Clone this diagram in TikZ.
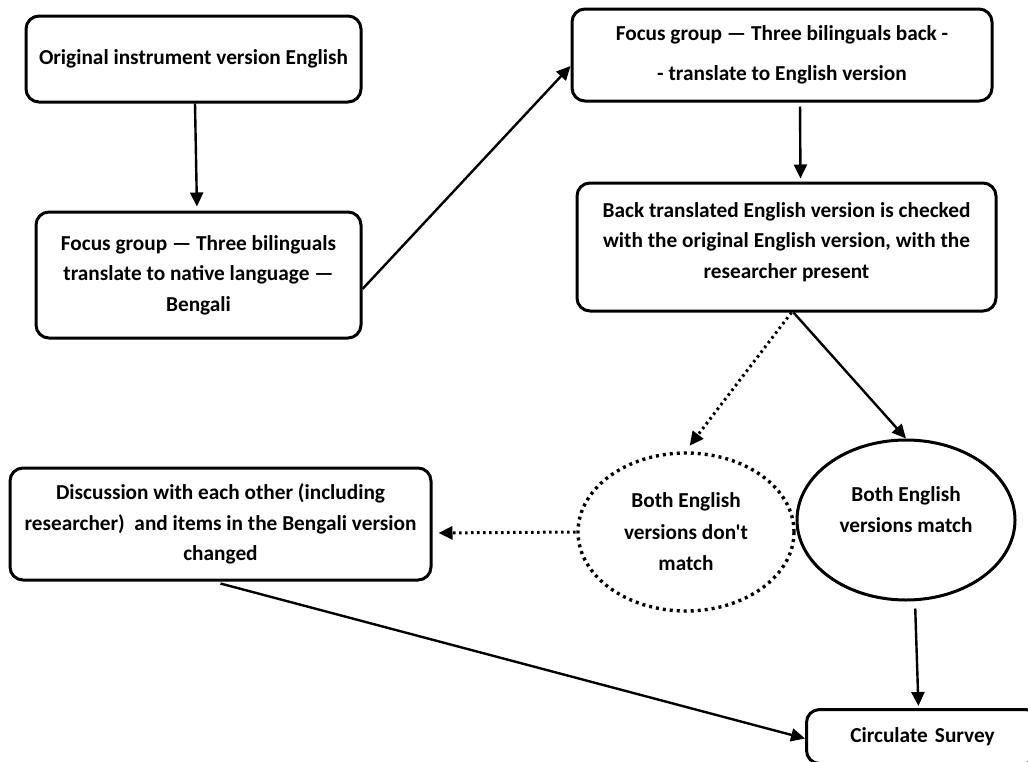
\documentclass[tikz,border=0pt]{standalone}
\usepackage{fontspec}
\setmainfont{Carlito}[Ligatures=TeXOff]
\usetikzlibrary{arrows.meta,shapes.geometric}
\begin{document}
\begin{tikzpicture}[x=1pt,y=-1pt,
  box/.style={draw,line width=3pt,rounded corners=13pt,align=center,inner sep=0pt,
    font=\fontsize{21.3}{30.5}\selectfont\bfseries},
  oval/.style={draw,line width=3pt,ellipse,align=center,inner sep=0pt,
    minimum width=218pt,minimum height=160pt,font=\fontsize{21.3}{31.5}\selectfont\bfseries},
  dotline/.style={line width=3.4pt,dash pattern=on 3pt off 4pt},
  conn/.style={line width=2.4pt,-{Triangle[length=14pt,width=13pt]}},
  dconn/.style={line width=3pt,dash pattern=on 2.5pt off 3.5pt,-{Triangle[length=14pt,width=13pt]}}
]
\useasboundingbox (0,0) rectangle (1028,761);
\clip (0,0) rectangle (1028,761);
\fill[white] (0,0) rectangle (1028,761);

\node[box,minimum width=335pt,minimum height=86pt] (A) at (193.5,59) {Original instrument version English};
\node[box,minimum width=325pt,minimum height=126pt] (B) at (198.5,275) {Focus group — Three bilinguals\\translate to native language —\\Bengali};
\node[box,minimum width=420pt,minimum height=92pt,font=\fontsize{21.3}{40}\selectfont\bfseries] (C) at (782,55) {Focus group — Three bilinguals back -\\- translate to English version};
\node[box,minimum width=419pt,minimum height=128pt] (D) at (786.5,247) {Back translated English version is checked\\with the original English version, with the\\researcher present\\[-26pt]\strut};
\node[box,minimum width=421pt,minimum height=112pt] (E) at (220.5,524) {Discussion with each other (including\\researcher)\ \ and items in the Bengali version\\changed};
\node[oval,draw=none] (F) at (686,532) {Both English\\versions don't\\match};
\draw[dotline] (F.center) ellipse [x radius=108pt,y radius=79pt];
\node[oval] (G) at (906,520) {Both English\\versions match\\[-20pt]\strut};
\node[box,minimum width=232pt,minimum height=54pt,anchor=north west,text width=232pt] (H) at (805,708) {Circulate Survey\\[6pt]};

\draw[conn,shorten >=4pt] ([xshift=1.5pt]A.south) -- ([xshift=-1.5pt]B.north);
\draw[conn] ([yshift=-14pt]B.east) -- ([yshift=-11pt]C.west);
\draw[conn,shorten <=4pt,shorten >=3pt] ([xshift=18pt]C.south) -- ([xshift=14pt]D.north);
\draw[conn] ([xshift=7pt]D.south) -- (G.north);
\draw[dconn,shorten >=6pt] ([xshift=5pt]D.south) -- (F.north);
\draw[dconn,shorten >=6pt] (F.west) -- ([yshift=-9pt]E.east);
\draw[conn] ([yshift=-2pt]E.south) -- ([yshift=-2pt]H.west);
\draw[conn,shorten <=7pt,shorten >=2pt] ([xshift=9pt]G.south) -- ([xshift=-4pt]H.north);
\end{tikzpicture}
\end{document}
